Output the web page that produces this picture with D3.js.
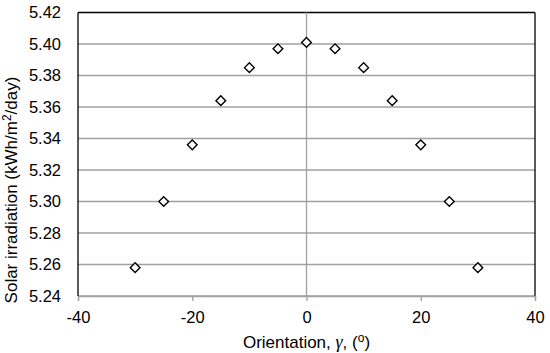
<!DOCTYPE html>
<html lang="en">
<head>
<meta charset="utf-8" />
<script src="https://cdnjs.cloudflare.com/ajax/libs/d3/7.8.5/d3.min.js"></script>
<style>
  body { margin: 0; background: #fff; }
  text { font-family: 'Liberation Sans', Arial, sans-serif; fill: #000; }
</style>
</head>
<body>
<div id="chart"></div>
<script>
// orientation angles (deg) and solar irradiation (kWh/m2/day)
var orientation = [-30, -25, -20, -15, -10, -5, 0, 5, 10, 15, 20, 25, 30];
var irradiation = [5.258, 5.300, 5.336, 5.364, 5.385, 5.397, 5.401, 5.397, 5.385, 5.364, 5.336, 5.300, 5.258];
var xTicks = [-40, -20, 0, 20, 40];
var yTicks = [5.24, 5.26, 5.28, 5.30, 5.32, 5.34, 5.36, 5.38, 5.40, 5.42];

var width = 550, height = 353;
var margin = {left: 78, right: 15, top: 12.5, bottom: 57};

var svg = d3.select('#chart').append('svg')
  .attr('width', width)
  .attr('height', height);

var x = d3.scaleLinear().domain([-40, 40]).range([margin.left, width - margin.right]);
var y = d3.scaleLinear().domain([5.24, 5.42]).range([height - margin.bottom, margin.top]);

// horizontal gridlines
svg.append('g').selectAll('line')
  .data(yTicks)
  .enter().append('line')
  .attr('x1', x(-40)).attr('x2', x(40))
  .attr('y1', function(d) { return y(d); })
  .attr('y2', function(d) { return y(d); })
  .attr('stroke', function(d) { return d === 5.42 ? '#000' : '#a0a0a0'; })
  .attr('stroke-width', 1.3);

// vertical axis line at x=0
svg.append('line')
  .attr('x1', x(0)).attr('x2', x(0))
  .attr('y1', y(5.42)).attr('y2', y(5.24))
  .attr('stroke', '#a0a0a0').attr('stroke-width', 1.3);

// left and right borders
[-40, 40].forEach(function(v) {
  svg.append('line')
    .attr('x1', x(v)).attr('x2', x(v))
    .attr('y1', y(5.42)).attr('y2', y(5.24))
    .attr('stroke', '#000').attr('stroke-width', 1.3);
});

// bottom axis
var xAxis = svg.append('g')
  .attr('transform', 'translate(0,' + y(5.24) + ')')
  .call(d3.axisBottom(x).tickValues(xTicks).tickSize(5).tickPadding(10).tickFormat(d3.format('d')));
xAxis.select('.domain').attr('stroke', '#a0a0a0').attr('stroke-width', 1.3);
xAxis.selectAll('.tick line').attr('stroke', '#a0a0a0').attr('stroke-width', 1.3);
xAxis.selectAll('text').style('font-size', '16.5px').attr('fill', '#000')
  .text(function(d) { return d < 0 ? '-' + Math.abs(d) : d; });

// left axis labels
var yAxis = svg.append('g')
  .attr('transform', 'translate(' + x(-40) + ',0)')
  .call(d3.axisLeft(y).tickValues(yTicks).tickSize(0).tickPadding(17).tickFormat(d3.format('.2f')));
yAxis.select('.domain').remove();
yAxis.selectAll('text').style('font-size', '16.5px').attr('fill', '#000');

// diamond markers
svg.append('g').selectAll('path')
  .data(orientation)
  .enter().append('path')
  .attr('d', d3.symbol().type(d3.symbolDiamond2).size(60))
  .attr('transform', function(d, i) { return 'translate(' + x(d) + ',' + y(irradiation[i]) + ')'; })
  .attr('fill', '#fff')
  .attr('stroke', '#000')
  .attr('stroke-width', 1.4);

// axis titles
var xt = svg.append('text')
  .attr('x', x(0)).attr('y', 348)
  .attr('text-anchor', 'middle')
  .style('font-size', '17px');
xt.append('tspan').text('Orientation, ');
xt.append('tspan').text('γ').style('font-family', "'Liberation Serif', serif").style('font-style', 'italic').style('font-size', '18px');
xt.append('tspan').text(', (');
xt.append('tspan').text('o').attr('dy', -6).style('font-size', '12px');
xt.append('tspan').text(')').attr('dy', 6);

var yt = svg.append('text')
  .attr('transform', 'translate(17,190) rotate(-90)')
  .attr('text-anchor', 'middle')
  .style('font-size', '17px');
yt.append('tspan').text('Solar irradiation (kWh/m');
yt.append('tspan').text('2').attr('dy', -6).style('font-size', '12px');
yt.append('tspan').text('/day)').attr('dy', 6);
</script>
</body>
</html>
